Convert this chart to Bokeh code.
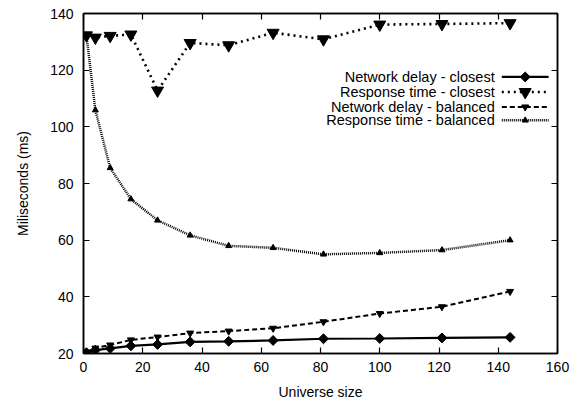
from bokeh.plotting import figure
from bokeh.models import LinearAxis, FixedTicker, Label
from bokeh.embed import file_html
from bokeh.resources import INLINE
import math

universe = [1, 4, 9, 16, 25, 36, 49, 64, 81, 100, 121, 144]
net_closest = [20.3, 21.2, 21.8, 22.7, 23.2, 24.1, 24.3, 24.6, 25.2, 25.3, 25.5, 25.7]
resp_closest = [132.3, 131.5, 132.1, 132.6, 112.8, 129.6, 128.8, 133.2, 130.9, 136.1, 136.3, 136.6]
net_balanced = [20.5, 21.9, 23.0, 24.8, 25.8, 27.2, 27.9, 28.9, 31.2, 34.1, 36.5, 41.9]
resp_balanced = [132.3, 105.9, 85.5, 74.5, 67.0, 61.7, 58.0, 57.3, 55.0, 55.5, 56.5, 60.0]

labels = ["Network delay - closest", "Response time - closest",
          "Network delay - balanced", "Response time - balanced"]
x_ticks = [0, 20, 40, 60, 80, 100, 120, 140, 160]
y_ticks = [20, 40, 60, 80, 100, 120, 140]

FONT = "Liberation Sans"
FS = "14px"

p = figure(width=580, height=403, x_range=(0, 160), y_range=(20, 140),
           output_backend="svg", toolbar_location=None,
           min_border_left=83, min_border_right=23, min_border_top=13,
           min_border_bottom=50)
p.background_fill_color = "white"
p.border_fill_color = "white"
p.xgrid.visible = False
p.ygrid.visible = False
p.outline_line_color = "black"
p.outline_line_width = 1.5

for ax in (p.xaxis[0], p.yaxis[0]):
    ax.major_tick_in = 6
    ax.major_tick_out = 0
    ax.minor_tick_line_color = None
    ax.axis_line_color = "black"
    ax.axis_line_width = 1.5
    ax.major_tick_line_width = 1.2
    ax.major_label_text_font = FONT
    ax.major_label_text_font_size = FS
    ax.major_label_text_color = "black"
    ax.axis_label_text_font = FONT
    ax.axis_label_text_font_size = FS
    ax.axis_label_text_font_style = "normal"
    ax.axis_label_text_color = "black"

p.xaxis[0].ticker = FixedTicker(ticks=x_ticks)
p.yaxis[0].ticker = FixedTicker(ticks=y_ticks)
p.xaxis[0].axis_label = "Universe size"
p.yaxis[0].axis_label = "Miliseconds (ms)"
p.xaxis[0].major_label_standoff = 8
p.yaxis[0].major_label_standoff = 10
p.xaxis[0].axis_label_standoff = 9
p.yaxis[0].axis_label_standoff = 16

top = LinearAxis(ticker=FixedTicker(ticks=x_ticks))
right = LinearAxis(ticker=FixedTicker(ticks=y_ticks))
for ax in (top, right):
    ax.major_tick_in = 6
    ax.major_tick_out = 0
    ax.minor_tick_line_color = None
    ax.major_label_text_color = None
    ax.major_label_text_font_size = "1px"
    ax.major_label_standoff = 0
    ax.axis_line_color = "black"
    ax.axis_line_width = 1.5
    ax.major_tick_line_width = 1.2
p.add_layout(top, "above")
p.add_layout(right, "right")

styles = [
    dict(dash="solid", lw=2.2, marker="square", size=7, angle=math.pi / 4),
    dict(dash="2 4", lw=2.6, marker="inverted_triangle", size=12, angle=0),
    dict(dash="5 3", lw=2.0, marker="inverted_triangle", size=7, angle=0),
    dict(dash="1 1", lw=2.5, marker="triangle", size=6, angle=0),
]
series = [net_closest, resp_closest, net_balanced, resp_balanced]

for ys, st in zip(series, styles):
    p.line(universe, ys, line_color="black", line_width=st["lw"], line_dash=st["dash"])
    p.scatter(universe, ys, marker=st["marker"], size=st["size"], angle=st["angle"],
              fill_color="black", line_color="black")

# Legend (gnuplot style: text right-aligned, sample on the right)
leg_text_x = 138.8
leg_x0, leg_x1 = 141.2, 157.0
leg_rows = [117.6, 112.3, 107.0, 102.3]
for lab, st, yy in zip(labels, styles, leg_rows):
    p.add_layout(Label(x=leg_text_x, y=yy, text=lab, text_align="right",
                       text_baseline="middle", text_font=FONT,
                       text_font_size="14.5px", text_color="black"))
    p.line([leg_x0, leg_x1], [yy, yy], line_color="black", line_width=st["lw"],
           line_dash=st["dash"])
    p.scatter([(leg_x0 + leg_x1) / 2], [yy], marker=st["marker"], size=st["size"],
              angle=st["angle"], fill_color="black", line_color="black")

open("out.html", "w").write(file_html(p, INLINE))
